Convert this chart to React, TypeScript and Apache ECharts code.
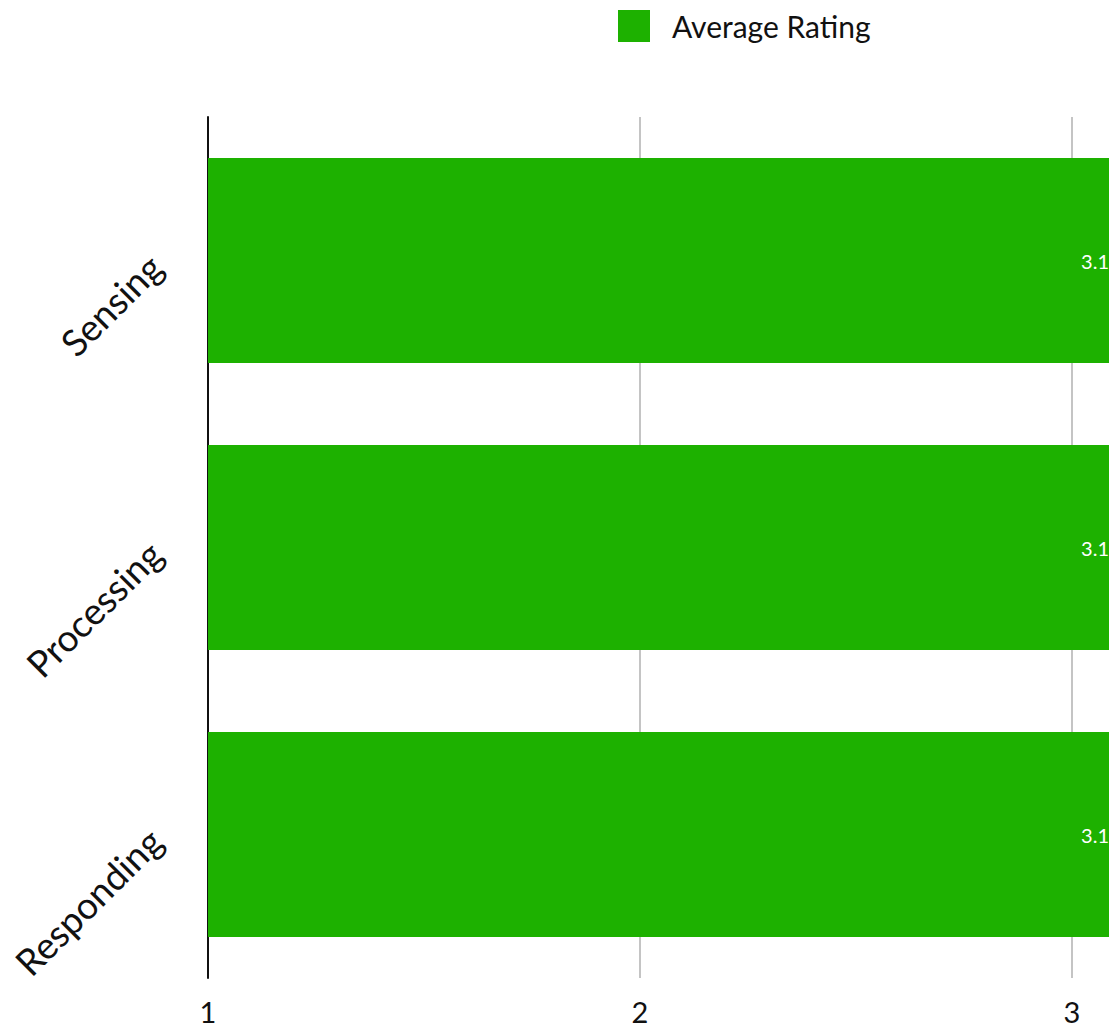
import React, { useEffect, useRef } from "react";
import * as echarts from "echarts";

const categories = ["Sensing", "Processing", "Responding"];
const ratings = [3.1, 3.1, 3.1];
const seriesName = "Average Rating";
const xMin = 1;
const xMax = 3.1;
const xInterval = 1;

export default function App() {
  const ref = useRef<HTMLDivElement>(null);
  useEffect(() => {
    if (!ref.current) return;
    const chart = echarts.init(ref.current, null, { renderer: "svg" });
    const font = "Lato, 'Open Sans', sans-serif";
    chart.setOption({
      animation: false,
      textStyle: { fontFamily: font },
      legend: {
        left: 613,
        top: 5,
        itemWidth: 32,
        itemHeight: 32,
        icon: "rect",
        data: [seriesName],
        textStyle: { fontSize: 30, color: "#111", fontFamily: font, padding: [0, 0, 0, 17] },
      },
      grid: {
        left: 208,
        width: 907,
        top: 117,
        bottom: 49,
        containLabel: false,
        outerBoundsMode: "none",
      },
      xAxis: {
        type: "value",
        min: xMin,
        max: xMax,
        interval: xInterval,
        axisLine: { show: false },
        axisTick: { show: false },
        splitLine: { show: true, lineStyle: { color: "#c4c4c4", width: 2 } },
        axisLabel: {
          fontSize: 29,
          lineHeight: 24,
          color: "#111",
          margin: 21,
          fontFamily: font,
          formatter: (v: number) => (Number.isInteger(v) ? String(v) : ""),
        },
      },
      yAxis: {
        type: "category",
        inverse: true,
        data: categories,
        axisLine: { show: true, lineStyle: { color: "#111", width: 2 } },
        axisTick: { show: false },
        axisLabel: { fontSize: 37, color: "#111", rotate: 45, margin: 53, fontFamily: font },
      },
      series: [
        {
          name: seriesName,
          type: "bar",
          data: ratings,
          barWidth: 205,
          itemStyle: { color: "#1db100" },
          label: {
            show: true,
            position: "insideRight",
            distance: 6,
            color: "#fff",
            fontSize: 20,
            fontFamily: font,
            formatter: (p: any) => String(p.value),
          },
        },
      ],
    });
    return () => chart.dispose();
  }, []);
  return (
    <div
      ref={ref}
      style={{ position: "absolute", left: 0, top: 0, width: 1109, height: 1027 }}
    />
  );
}
